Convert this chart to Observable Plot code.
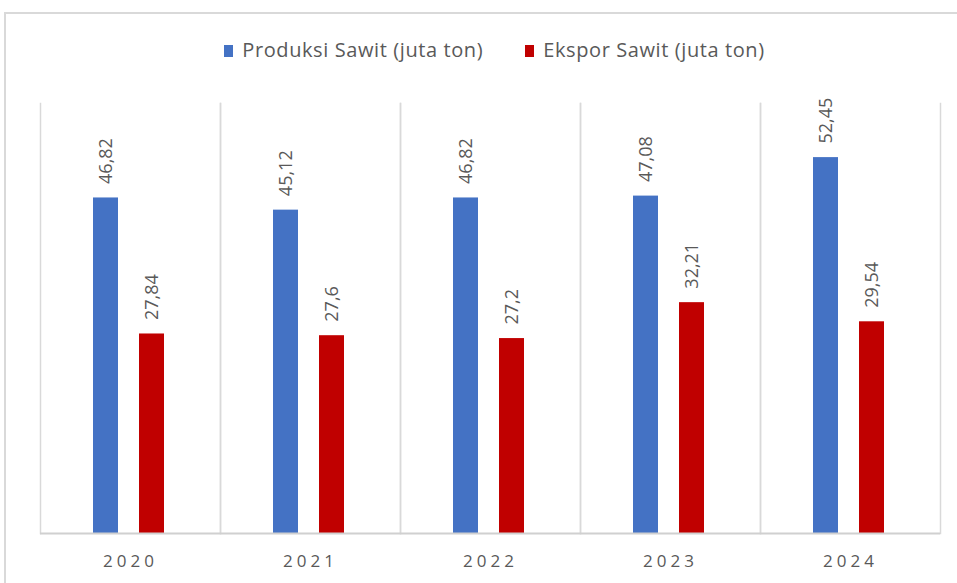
<!DOCTYPE html>
<html>
<head>
<meta charset="utf-8">
<script src="https://cdn.jsdelivr.net/npm/d3@7"></script>
<script src="https://cdn.jsdelivr.net/npm/@observablehq/plot@0.6"></script>
<style>
  html, body { margin: 0; padding: 0; background: #fff; }
  #wrap { position: relative; width: 957px; height: 583px; overflow: hidden; font-family: "Open Sans", Lato, sans-serif; }
  #border { position: absolute; left: 4px; top: 12px; width: 1000px; height: 700px; border-left: 2px solid #d9d9d9; border-top: 2px solid #d9d9d9; }
  #legend { position: absolute; top: 36px; left: 16px; width: 957px; text-align: center; font-size: 20px; letter-spacing: 0.6px; color: #595959; white-space: nowrap; }
  #legend span.item { display: inline-block; margin: 0 21px; }
  #legend span.sw { display: inline-block; width: 9px; height: 12px; margin-right: 9px; vertical-align: 0px; }
  #chart { position: absolute; left: 0; top: 0; }
  g[aria-label="fx-axis tick label"] text { letter-spacing: 4px; }
</style>
</head>
<body>
<div id="wrap">
  <div id="border"></div>
  <div id="legend"></div>
  <div id="chart"></div>
</div>
<script>
const years = ["2020", "2021", "2022", "2023", "2024"];
const seriesNames = ["Produksi Sawit (juta ton)", "Ekspor Sawit (juta ton)"];
const seriesColors = ["#4472C4", "#C00000"];
const produksi = [46.82, 45.12, 46.82, 47.08, 52.45];
const ekspor = [27.84, 27.6, 27.2, 32.21, 29.54];

const data = [];
years.forEach((y, i) => {
  data.push({year: y, series: seriesNames[0], value: produksi[i]});
  data.push({year: y, series: seriesNames[1], value: ekspor[i]});
});
const fmt = v => String(v).replace(".", ",");

const legend = document.getElementById("legend");
seriesNames.forEach((s, i) => {
  const item = document.createElement("span");
  item.className = "item";
  const sw = document.createElement("span");
  sw.className = "sw";
  sw.style.background = seriesColors[i];
  item.appendChild(sw);
  item.appendChild(document.createTextNode(s));
  legend.appendChild(item);
});

const chart = Plot.plot({
  width: 957,
  height: 583,
  marginTop: 103,
  marginBottom: 50,
  marginLeft: 38,
  marginRight: 16,
  style: {fontFamily: "'Open Sans', Lato, sans-serif", background: "transparent", color: "#595959"},
  fx: {domain: years, padding: 0, label: null},
  x: {domain: seriesNames, paddingInner: 0.4565, paddingOuter: 1.18, axis: null},
  y: {domain: [0, 60], axis: null},
  color: {domain: seriesNames, range: seriesColors},
  marks: [
    Plot.frame({anchor: "left", stroke: "#d9d9d9", strokeWidth: 1.5}),
    Plot.frame({anchor: "right", stroke: "#d9d9d9", strokeWidth: 1.5}),
    Plot.barY(data, {fx: "year", x: "series", y: "value", fill: "series", dx: -1}),
    Plot.ruleY([0], {stroke: "#d0d0d0", strokeWidth: 2}),
    Plot.text(data, {fx: "year", x: "series", y: "value", text: d => fmt(d.value), rotate: -90, textAnchor: "start", dy: -14, dx: -1, fontSize: 18, fill: "#595959"}),
    Plot.axisFx({anchor: "bottom", tickSize: 0, tickPadding: 21, fontSize: 17, label: null, fill: "#595959"})
  ]
});
document.getElementById("chart").appendChild(chart);
</script>
</body>
</html>
